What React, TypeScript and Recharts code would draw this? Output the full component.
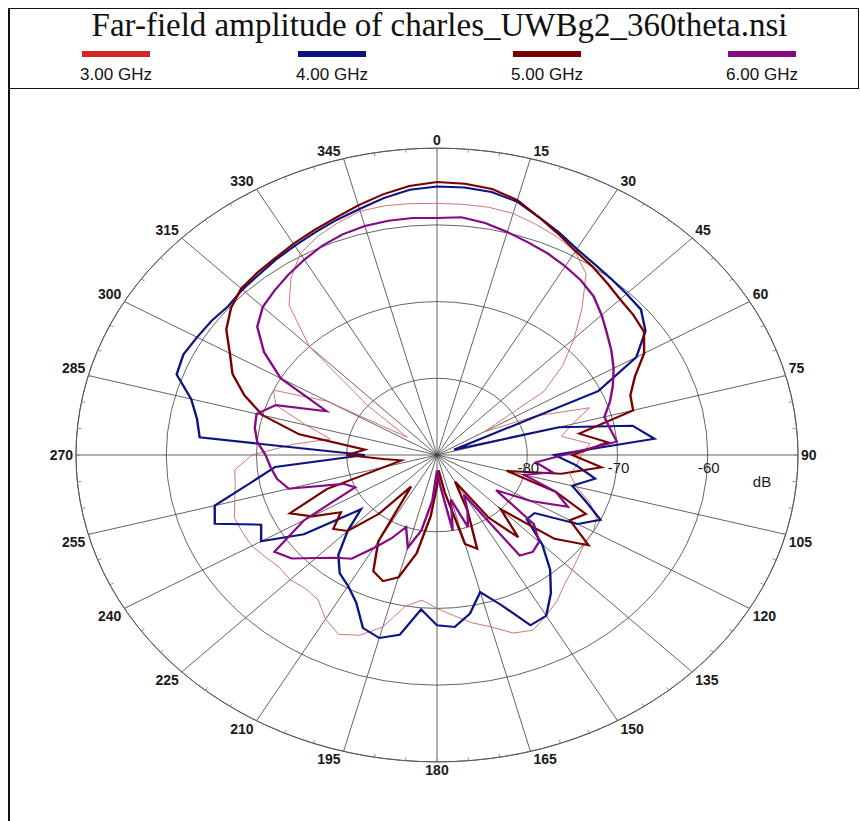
import React from 'react'
import { RadarChart, Radar, PolarGrid, PolarAngleAxis, PolarRadiusAxis } from 'recharts'

// theta in degrees, 5 degree steps
const angles = [
  0, 5, 10, 15, 20, 25, 30, 35, 40, 45, 50, 55, 60, 65, 70, 75, 80, 85,
  90, 95, 100, 105, 110, 115, 120, 125, 130, 135, 140, 145, 150, 155, 160, 165, 170, 175,
  180, 185, 190, 195, 200, 205, 210, 215, 220, 225, 230, 235, 240, 245, 250, 255, 260, 265,
  270, 275, 280, 285, 290, 295, 300, 305, 310, 315, 320, 325, 330, 335, 340, 345, 350, 355,
]

// far-field amplitude (dB)
const ghz3 = [
  -57.2, -57.2, -57.2, -57.4, -58.0, -58.6, -59.4, -61.2, -65.0, -68.5, -71.8, -75.5, -84.0, -78.0, -72.0, -74.5, -76.0, -73.0,
  -74.0, -74.5, -75.0, -74.0, -72.0, -70.5, -70.0, -70.0, -69.5, -68.8, -68.0, -66.8, -65.8, -64.8, -65.3, -66.8, -67.8, -69.0,
  -70.0, -71.0, -70.0, -66.8, -65.0, -64.2, -65.3, -67.0, -67.3, -67.0, -67.2, -66.8, -66.3, -66.2, -66.1, -66.8, -67.3, -67.5,
  -69.5, -74.0, -78.0, -75.0, -71.0, -70.0, -76.0, -86.0, -80.0, -70.0, -64.5, -61.8, -59.7, -58.6, -57.8, -57.1, -57.0, -57.1,
]
const ghz4 = [
  -55.0, -55.0, -55.2, -55.8, -57.0, -58.0, -59.0, -59.6, -60.0, -60.3, -60.5, -61.8, -64.5, -70.3, -88.0, -76.0, -68.0, -65.8,
  -77.0, -74.5, -72.2, -74.5, -72.5, -70.0, -72.0, -76.8, -77.0, -73.5, -70.5, -68.0, -65.8, -65.5, -69.2, -71.5, -69.0, -67.5,
  -67.8, -69.8, -66.2, -65.3, -66.0, -68.8, -70.3, -71.2, -73.0, -76.0, -79.0, -72.0, -67.5, -68.5, -63.8, -64.5, -69.0, -72.0,
  -82.0, -63.6, -63.0, -61.8, -59.3, -59.0, -59.3, -59.5, -59.8, -59.5, -59.3, -58.9, -58.5, -58.0, -57.4, -56.8, -56.0, -55.3,
]
const ghz5 = [
  -54.4, -54.5, -54.8, -55.6, -57.0, -58.2, -59.3, -60.0, -60.7, -61.3, -61.6, -62.0, -63.5, -65.8, -67.2, -67.5, -74.0, -71.0,
  -75.0, -71.7, -76.0, -82.0, -76.0, -71.8, -73.0, -69.5, -73.0, -80.0, -76.0, -80.0, -86.0, -82.0, -77.0, -78.0, -85.0, -88.0,
  -86.0, -82.0, -77.0, -73.5, -72.5, -73.3, -77.0, -85.0, -80.0, -76.0, -75.0, -77.0, -74.0, -72.0, -77.0, -84.0, -86.0, -84.0,
  -80.0, -82.0, -74.5, -70.0, -67.3, -65.0, -63.5, -61.5, -60.2, -59.3, -59.0, -58.7, -58.2, -57.7, -57.1, -56.3, -55.5, -54.8,
]
const ghz6 = [
  -59.1, -58.9, -59.3, -59.9, -60.5, -61.0, -61.6, -62.2, -63.0, -64.2, -65.4, -66.4, -67.4, -68.5, -69.6, -70.8, -70.5, -70.0,
  -76.0, -79.0, -77.0, -80.0, -76.0, -74.0, -78.0, -82.0, -76.0, -74.0, -73.5, -74.0, -84.0, -82.0, -80.0, -84.0, -80.0, -86.0,
  -88.0, -84.0, -80.0, -77.5, -80.0, -78.0, -76.0, -73.5, -72.5, -71.0, -69.0, -68.0, -73.0, -80.0, -79.0, -73.0, -72.0, -71.5,
  -71.0, -70.0, -69.5, -69.3, -71.0, -76.5, -70.0, -66.6, -64.0, -62.7, -62.0, -61.3, -60.6, -59.9, -59.4, -59.1, -59.0, -59.0,
]

const series = [
  { key: 'f3', name: '3.00 GHz', color: '#d42626', line: '#cf6b64', width: 1 },
  { key: 'f4', name: '4.00 GHz', color: '#0c1482', line: '#0c1482', width: 2.4 },
  { key: 'f5', name: '5.00 GHz', color: '#7a0000', line: '#7a0000', width: 2.4 },
  { key: 'f6', name: '6.00 GHz', color: '#860a86', line: '#860a86', width: 2.4 },
]

const legendCenters = [116, 332, 547, 762]

const data = angles.map((angle, i) => ({
  angle,
  f3: ghz3[i],
  f4: ghz4[i],
  f5: ghz5[i],
  f6: ghz6[i],
}))

// the plot is drawn round and squashed vertically into an ellipse
const K = 0.85
const CX = 437
const CY = 455
const R = 361

const gridAngles = angles.filter((a) => a % 15 === 0).map((a) => 90 - a)

const AngleTick = (props: any) => {
  const v = Number(props.payload?.value)
  if (v % 15 !== 0) return <g />
  const t = (v * Math.PI) / 180
  const s = Math.sin(t)
  const c = Math.cos(t)
  const x = CX + R * s + (s > 0.05 ? 3 : s < -0.05 ? -3 : 0)
  const y = CY - R * c + (c > 0.05 ? -8 : c < -0.05 ? 8 : 0) / K
  const anchor = s > 0.05 ? 'start' : s < -0.05 ? 'end' : 'middle'
  return (
    <g transform={`translate(${x} ${y}) scale(1 ${1 / K})`}>
      <text
        x={0}
        y={0}
        textAnchor={anchor}
        dominantBaseline="central"
        fontFamily="Arial, 'Liberation Sans', sans-serif"
        fontSize={14}
        fontWeight="bold"
        fill="#1a1a1a"
      >
        {v}
      </text>
    </g>
  )
}

const RadiusTick = (props: any) => {
  const { x, y, payload } = props
  const v = payload?.value
  if (v === -90) return <g />
  const isUnit = v === -50
  return (
    <g transform={`translate(${x} ${y}) scale(1 ${1 / K})`}>
      <text
        x={isUnit ? -36 : 1}
        y={isUnit ? 26 : 12}
        textAnchor="middle"
        dominantBaseline="central"
        fontFamily="Arial, 'Liberation Sans', sans-serif"
        fontSize={15}
        fill="#1a1a1a"
      >
        {isUnit ? 'dB' : v}
      </text>
    </g>
  )
}

export default function App() {
  return (
    <div style={{ position: 'absolute', left: 0, top: 0, width: 860, height: 821, background: '#fff', overflow: 'hidden' }}>
      {/* frame */}
      <div style={{ position: 'absolute', left: 8, top: 8, width: 851, height: 1, background: '#111' }} />
      <div style={{ position: 'absolute', left: 8, top: 88, width: 851, height: 1, background: '#111' }} />
      <div style={{ position: 'absolute', left: 8, top: 8, width: 2, height: 813, background: '#111' }} />
      <div style={{ position: 'absolute', left: 858, top: 8, width: 1, height: 81, background: '#111' }} />

      <div
        style={{
          position: 'absolute',
          left: 14,
          top: 7,
          width: 851,
          textAlign: 'center',
          fontFamily: "'Liberation Serif', 'Times New Roman', serif",
          fontSize: 33,
          lineHeight: '36px',
          color: '#111',
        }}
      >
        Far-field amplitude of charles_UWBg2_360theta.nsi
      </div>

      {series.map((s, i) => (
        <React.Fragment key={s.key}>
          <div
            style={{
              position: 'absolute',
              left: legendCenters[i] - 34,
              top: 51,
              width: 68,
              height: 6,
              background: s.color,
            }}
          />
          <div
            style={{
              position: 'absolute',
              left: legendCenters[i] - 60,
              width: 120,
              top: 65,
              textAlign: 'center',
              fontFamily: "Arial, 'Liberation Sans', sans-serif",
              fontSize: 17,
              lineHeight: '20px',
              color: '#111',
            }}
          >
            {s.name}
          </div>
        </React.Fragment>
      ))}

      <div
        style={{
          position: 'absolute',
          left: 0,
          top: 0,
          width: 860,
          height: 940,
          transform: `scaleY(${K})`,
          transformOrigin: `0px ${CY}px`,
        }}
      >
        <RadarChart
          width={860}
          height={940}
          data={data}
          cx={CX}
          cy={CY}
          outerRadius={R}
          startAngle={90}
          endAngle={-270}
          margin={{ top: 0, right: 0, bottom: 0, left: 0 }}
          style={{ overflow: 'visible' }}
        >
          <PolarGrid gridType="circle" polarAngles={gridAngles} stroke="#444" strokeWidth={0.9} />
          <PolarAngleAxis
            dataKey="angle"
            axisLineType="circle"
            axisLine={{ stroke: '#555', strokeWidth: 1 }}
            tickLine={{ stroke: '#888' }}
            orientation="inner"
            tickSize={4}
            tick={AngleTick}
          />
          <PolarRadiusAxis
            angle={0}
            domain={[-90, -50]}
            tickCount={5}
            axisLine={false}
            tickLine={false}
            tick={RadiusTick}
          />
          {series.map((s) => (
            <Radar
              key={s.key}
              dataKey={s.key}
              name={s.name}
              stroke={s.line}
              strokeWidth={s.width}
              fill="none"
              fillOpacity={0}
              dot={false}
              isAnimationActive={false}
            />
          ))}
        </RadarChart>
      </div>
    </div>
  )
}
